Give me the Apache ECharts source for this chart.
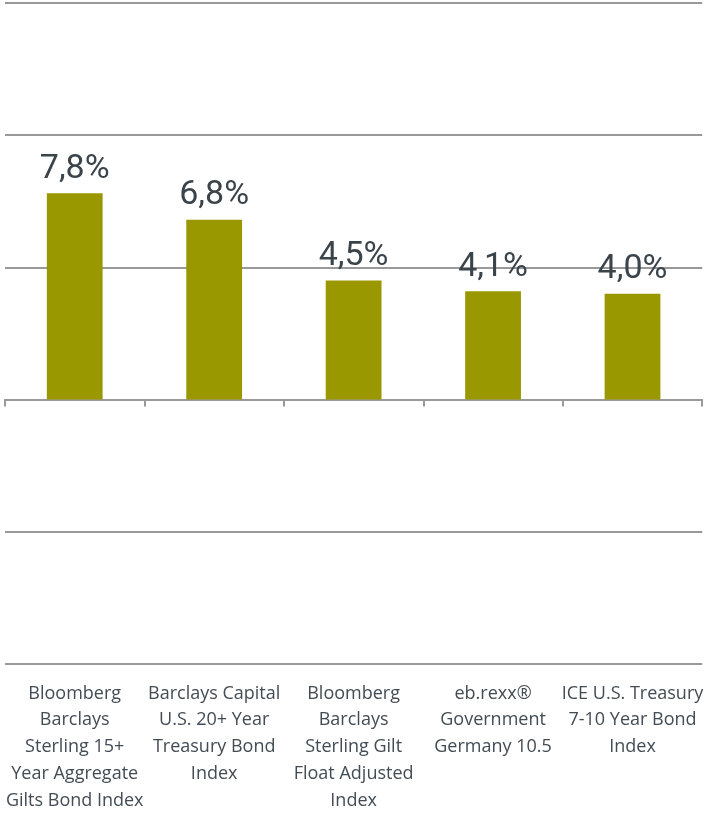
<!DOCTYPE html>
<html>
<head>
<meta charset="UTF-8">
<title>Bond index returns</title>
<style>
  * { margin: 0; padding: 0; }
  body { background: #fff; }
  #chart { width: 706px; height: 814px; }
</style>
</head>
<body>
<div id="chart"></div>
<script src="https://cdn.jsdelivr.net/npm/echarts@6/dist/echarts.min.js"></script>
<script>
  var categories = [
    'Bloomberg\nBarclays\nSterling 15+\nYear Aggregate\nGilts Bond Index',
    'Barclays Capital\nU.S. 20+ Year\nTreasury Bond\nIndex',
    'Bloomberg\nBarclays\nSterling Gilt\nFloat Adjusted\nIndex',
    'eb.rexx®\nGovernment\nGermany 10.5',
    'ICE U.S. Treasury\n7-10 Year Bond\nIndex'
  ];
  var values = [7.8, 6.8, 4.5, 4.1, 4.0];

  var chart = echarts.init(document.getElementById('chart'));
  var font = '"Open Sans", sans-serif';

  chart.setOption({
    animation: false,
    grid: { left: 5, right: 1, top: 3, bottom: 149 - 3, containLabel: false },
    xAxis: [
      {
        type: 'category',
        data: categories,
        position: 'bottom',
        axisLine: { show: false, onZero: false },
        axisTick: { show: false },
        axisLabel: {
          interval: 0,
          margin: 16,
          color: '#434c54',
          fontFamily: font,
          fontSize: 18,
          lineHeight: 26.8,
          align: 'center'
        }
      },
      {
        type: 'category',
        data: categories,
        position: 'bottom',
        axisLine: { show: true, onZero: true, lineStyle: { color: '#999', width: 2 } },
        axisTick: { show: true, inside: false, length: 7, lineStyle: { color: '#999', width: 2 } },
        axisLabel: { show: false }
      }
    ],
    yAxis: {
      type: 'value',
      min: -10,
      max: 15,
      interval: 5,
      axisLine: { show: false },
      axisTick: { show: false },
      axisLabel: { show: false },
      splitLine: { show: true, lineStyle: { color: '#999', width: 2 } }
    },
    series: [{
      type: 'bar',
      data: values,
      xAxisIndex: 1,
      barWidth: '40%',
      itemStyle: { color: '#9a9800' },
      label: {
        show: true,
        position: 'top',
        distance: 7,
        color: '#3b444b',
        fontFamily: 'Roboto, sans-serif',
        fontSize: 34,
        formatter: function (p) {
          return p.value.toFixed(1).replace('.', ',') + '%';
        }
      }
    }]
  });
</script>
</body>
</html>
